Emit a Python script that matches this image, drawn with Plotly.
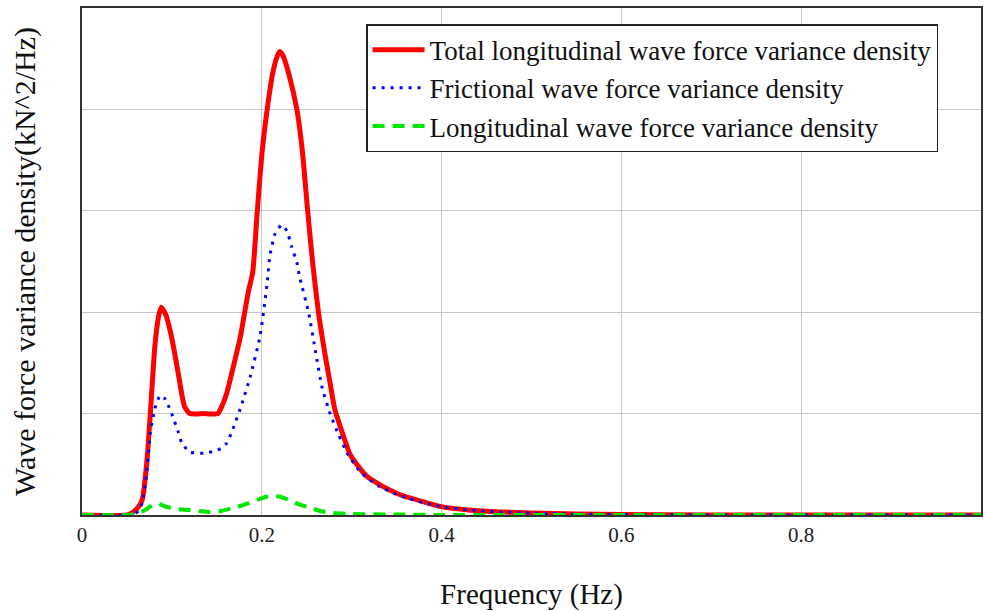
import plotly.graph_objects as go

# Frequency (Hz) and variance density (in grid units; y axis has no tick labels)
freq_total = [0, 0.05, 0.057, 0.062, 0.067, 0.072, 0.076, 0.081, 0.085, 0.088, 0.093, 0.098,
              0.103, 0.107, 0.114, 0.12, 0.135, 0.151, 0.156, 0.161, 0.168, 0.176, 0.181, 0.185,
              0.19, 0.195, 0.2, 0.206, 0.212, 0.217, 0.22, 0.224, 0.23, 0.239, 0.245, 0.251,
              0.257, 0.263, 0.27, 0.276, 0.281, 0.29, 0.298, 0.31, 0.317, 0.331, 0.354, 0.38,
              0.401, 0.43, 0.465, 0.5, 0.55, 0.6, 0.7, 0.8, 0.9, 1.0]
total = [0, 0, 0.03, 0.07, 0.15, 0.51, 1.0, 1.66, 1.95, 2.05, 1.98, 1.82,
         1.6, 1.4, 1.07, 1.0, 1.0, 1.0, 1.08, 1.2, 1.45, 1.75, 2.0, 2.2,
         2.4, 3.0, 3.55, 4.0, 4.35, 4.52, 4.57, 4.52, 4.35, 4.0, 3.6, 3.0,
         2.45, 2.0, 1.6, 1.3, 1.05, 0.8, 0.6, 0.45, 0.38, 0.3, 0.2, 0.13,
         0.08, 0.05, 0.03, 0.02, 0.01, 0.005, 0, 0, 0, 0]

freq_fric = [0, 0.05, 0.06, 0.064, 0.067, 0.072, 0.076, 0.081, 0.087, 0.092, 0.096, 0.101,
             0.107, 0.111, 0.12, 0.135, 0.148, 0.155, 0.161, 0.168, 0.178, 0.187, 0.198,
             0.206, 0.209, 0.215, 0.222, 0.228, 0.233, 0.239, 0.242, 0.252, 0.26, 0.267,
             0.276, 0.285, 0.295, 0.31, 0.331, 0.354, 0.38, 0.401, 0.43, 0.465, 0.5, 0.55,
             0.6, 0.7, 1.0]
fric = [0, 0, 0.02, 0.05, 0.12, 0.41, 0.81, 1.05, 1.18, 1.15, 1.08, 0.97,
        0.82, 0.71, 0.62, 0.61, 0.63, 0.66, 0.71, 0.85, 1.1, 1.36, 1.76,
        2.29, 2.56, 2.78, 2.86, 2.8, 2.65, 2.49, 2.35, 2.0, 1.6, 1.26,
        1.0, 0.8, 0.61, 0.42, 0.28, 0.19, 0.12, 0.08, 0.05, 0.03, 0.02, 0.01,
        0.005, 0, 0]

freq_long = [0, 0.05, 0.06, 0.066, 0.072, 0.079, 0.085, 0.094, 0.105, 0.117, 0.13, 0.142,
             0.155, 0.168, 0.18, 0.195, 0.205, 0.212, 0.22, 0.23, 0.24, 0.254, 0.265, 0.279,
             0.3, 0.35, 0.4, 1.0]
longi = [0, 0, 0.01, 0.03, 0.06, 0.1, 0.11, 0.08, 0.06, 0.05, 0.04, 0.03,
         0.04, 0.07, 0.1, 0.15, 0.18, 0.19, 0.18, 0.15, 0.11, 0.07, 0.04, 0.02,
         0.01, 0.005, 0, 0]

x_ticks = [0, 0.2, 0.4, 0.6, 0.8]
x_tick_text = ["0", "0.2", "0.4", "0.6", "0.8"]
y_grid = [0, 1, 2, 3, 4, 5]

names = ["Total longitudinal wave force variance density",
         "Frictional wave force variance density",
         "Longitudinal wave force variance density"]

font = "Liberation Serif, Times New Roman, serif"

fig = go.Figure()
fig.add_trace(go.Scatter(x=freq_total, y=total, mode="lines", name=names[0],
                         line=dict(color="#ff0000", width=5, shape="spline", smoothing=0.5)))
fig.add_trace(go.Scatter(x=freq_fric, y=fric, mode="lines", name=names[1],
                         line=dict(color="#0000ff", width=3, dash="3px,6px",
                                   shape="spline", smoothing=0.5)))
fig.add_trace(go.Scatter(x=freq_long, y=longi, mode="lines", name=names[2],
                         line=dict(color="#00e600", width=4, dash="12px,8px",
                                   shape="spline", smoothing=0.5)))

fig.update_layout(
    width=984, height=611,
    margin=dict(l=82, r=3, t=8, b=96),
    paper_bgcolor="white", plot_bgcolor="white",
    font=dict(family=font, color="#111111", size=18),
    legend=dict(x=0.316, y=0.968, xanchor="left", yanchor="top",
                bgcolor="white", bordercolor="#222222", borderwidth=1.5,
                font=dict(family=font, size=27, color="#111111"),
                tracegroupgap=0, itemwidth=52),
    xaxis=dict(range=[0, 1], tickvals=x_ticks, ticktext=x_tick_text,
               showgrid=True, gridcolor="#c8c8c8", gridwidth=1,
               showline=True, linecolor="#333333", linewidth=1.5, mirror=True,
               ticks="", zeroline=False, automargin=False,
               tickfont=dict(family=font, size=21, color="#222222"),
               title=dict(text="Frequency (Hz)", font=dict(family=font, size=29, color="#111111"),
                          standoff=40)),
    yaxis=dict(range=[0, 5], tickvals=y_grid, showticklabels=False,
               showgrid=True, gridcolor="#c8c8c8", gridwidth=1,
               showline=True, linecolor="#333333", linewidth=1.5, mirror=True,
               ticks="", zeroline=False, automargin=False,
               title=dict(text="Wave force variance density(kN^2/Hz)",
                          font=dict(family=font, size=30, color="#111111"),
                          standoff=36)),
)

fig.write_html("out.html", config={"displayModeBar": False},
               post_script="document.body.style.margin='0';document.body.style.overflow='hidden';")
